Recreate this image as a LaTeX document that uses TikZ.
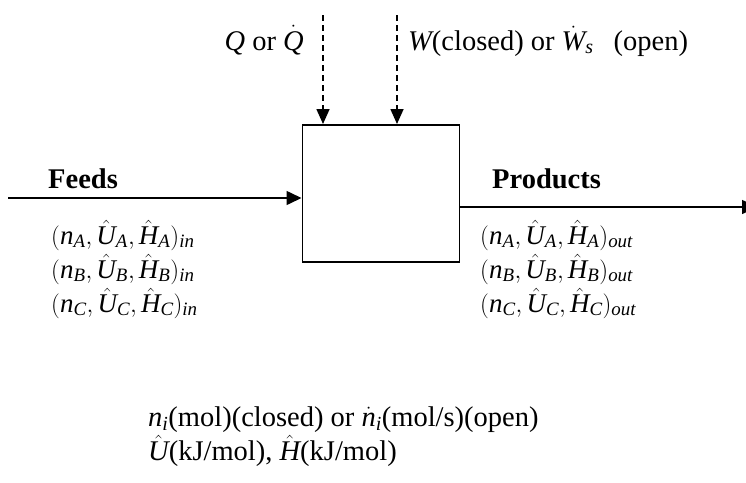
\documentclass[tikz,border=0pt]{standalone}
\usepackage{amsmath}
\usepackage{fontspec}
\setmainfont{Liberation Serif}
\usetikzlibrary{arrows.meta}
\newcommand\iv[1]{\text{\itshape #1}}
\newcommand\trip[2]{$(\iv{n}_{\iv{#1}},\hat{\iv{U}}_{\iv{#1}},\hat{\iv{H}}_{\iv{#1}})_{\iv{#2}}$}
\tikzset{
  lbl/.style={inner sep=0pt, anchor=base west, font=\fontsize{28.5}{34}\selectfont},
  listlbl/.style={inner sep=0pt, anchor=base west, font=\fontsize{27}{32}\selectfont},
  bold/.style={lbl, font=\fontsize{28.5}{34}\selectfont\bfseries},
  flow/.style={line width=1.6pt, -{Triangle[length=15pt,width=14pt]}},
  energy/.style={line width=1.6pt, dash pattern=on 6pt off 4pt, -{Triangle[length=15pt,width=13pt]}},
  unit/.style={draw, line width=1.6pt, minimum width=157pt, minimum height=137pt, inner sep=0pt}
}
\begin{document}
\begin{tikzpicture}[x=1pt,y=-1pt]
\useasboundingbox (0,0) rectangle (746,482);
\node[unit, anchor=north west] (box) at (301.5,124) {};
\coordinate (inS) at (8,198);
\coordinate (outE) at (757,207);
\coordinate (q1) at (323,15);
\coordinate (w1) at (397,15);
\draw[flow] (inS) -- (inS -| box.west);
\draw[flow] (outE -| box.east) -- (outE);
\draw[energy] (q1) -- (q1 |- box.north);
\draw[energy] (w1) -- (w1 |- box.north);
\node[lbl, anchor=base east] (qt) at (304,50) {$\iv{Q}$ or $\dot{\iv{Q}}$};
\node[lbl] (wt) at (408,50) {$\iv{W}$(closed) or $\dot{\iv{W}}_{\iv{s}}$\hspace{20pt}(open)};
\node[bold] (feeds) at (48,188) {Feeds};
\node[bold] (prod) at (492,188) {Products};
\node[listlbl] (fa) at (51,244) {\trip{A}{in}};
\node[listlbl] (fb) at (51,278) {\trip{B}{in}};
\node[listlbl] (fc) at (51,312) {\trip{C}{in}};
\node[listlbl] (pa) at (480,244) {\trip{A}{out}};
\node[listlbl] (pb) at (480,278) {\trip{B}{out}};
\node[listlbl] (pc) at (480,312) {\trip{C}{out}};
\node[lbl] (n1) at (148,426) {$\iv{n}_{\iv{i}}$(mol)(closed) or $\dot{\iv{n}}_{\iv{i}}$(mol/s)(open)};
\node[lbl] (n2) at (148,460) {$\hat{\iv{U}}$(kJ/mol), $\hat{\iv{H}}$(kJ/mol)};
\end{tikzpicture}
\end{document}
